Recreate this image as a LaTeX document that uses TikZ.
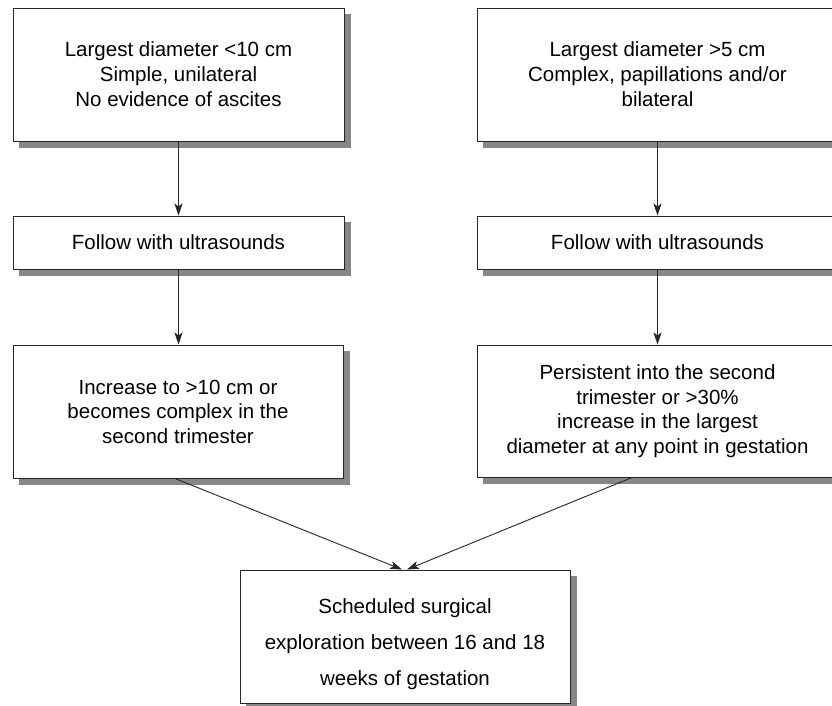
\documentclass[tikz,border=0pt]{standalone}
\usepackage{fontspec}
\setmainfont{Liberation Sans}
\usetikzlibrary{arrows.meta,backgrounds}
\begin{document}
\begin{tikzpicture}[x=1pt,y=-1pt,
  box/.style={draw=black!85, line width=1pt, fill=white, inner sep=0pt, align=center,
    font=\fontsize{20.5}{25}\selectfont},
  shade/.style={fill=black!47},
  txt/.style={inner sep=0pt, align=center},
  arr/.style={draw=black!85, line width=0.9pt, -{Stealth[length=12pt,width=8pt,inset=3pt]}}]
\useasboundingbox (0,0) rectangle (832,705);
\clip (0,0) rectangle (832,705);

\node[box, minimum width=331pt, minimum height=133pt] (b1) at (178.5,74.5)
  {Largest diameter <10 cm\\Simple, unilateral\\No evidence of ascites};
\node[box, minimum width=361pt, minimum height=133pt] (b2) at (657.5,74.5)
  {Largest diameter >5 cm\\Complex, papillations and/or\\bilateral};
\node[box, minimum width=331pt, minimum height=53pt] (b3) at (178.5,242.5)
  {Follow with ultrasounds};
\node[box, minimum width=361pt, minimum height=53pt] (b4) at (657.5,242.5)
  {Follow with ultrasounds};
\node[box, minimum width=330pt, minimum height=133pt, font=\fontsize{20.5}{24.5}\selectfont] (b5) at (178,411.5)
  {Increase to >10 cm or\\becomes complex in the\\second trimester};
\node[box, minimum width=361pt, minimum height=132pt, font=\fontsize{20.5}{24.5}\selectfont] (b6) at (657.5,411)
  {Persistent into the second\\trimester or >30\%\\increase in the largest\\diameter at any point in gestation};
\node[box, minimum width=330pt, minimum height=133pt] (b7) at (405,636.5) {};
\node[txt, font=\fontsize{20.5}{36}\selectfont] (t7) at (405,644)
  {Scheduled surgical\\exploration between 16 and 18\\weeks of gestation};

\begin{scope}[on background layer]
  \fill[white] (0,0) rectangle (832,705);
  \foreach \b in {b1,b2,b3,b4,b5,b6,b7}{
    \fill[shade] ([shift={(6pt,-6pt)}]\b.south west) rectangle ([shift={(6pt,-6pt)}]\b.north east);
  }
\end{scope}

\draw[arr] (b1) -- (b3);
\draw[arr] (b2) -- (b4);
\draw[arr] (b3) -- (b5.north -| b3.south);
\draw[arr] (b4) -- (b6);
\draw[arr] ([xshift=-3pt]b5.south) -- ([xshift=-3pt]b7.north);
\draw[arr] ([xshift=-25.5pt]b6.south) -- ([xshift=2pt]b7.north);
\end{tikzpicture}
\end{document}
